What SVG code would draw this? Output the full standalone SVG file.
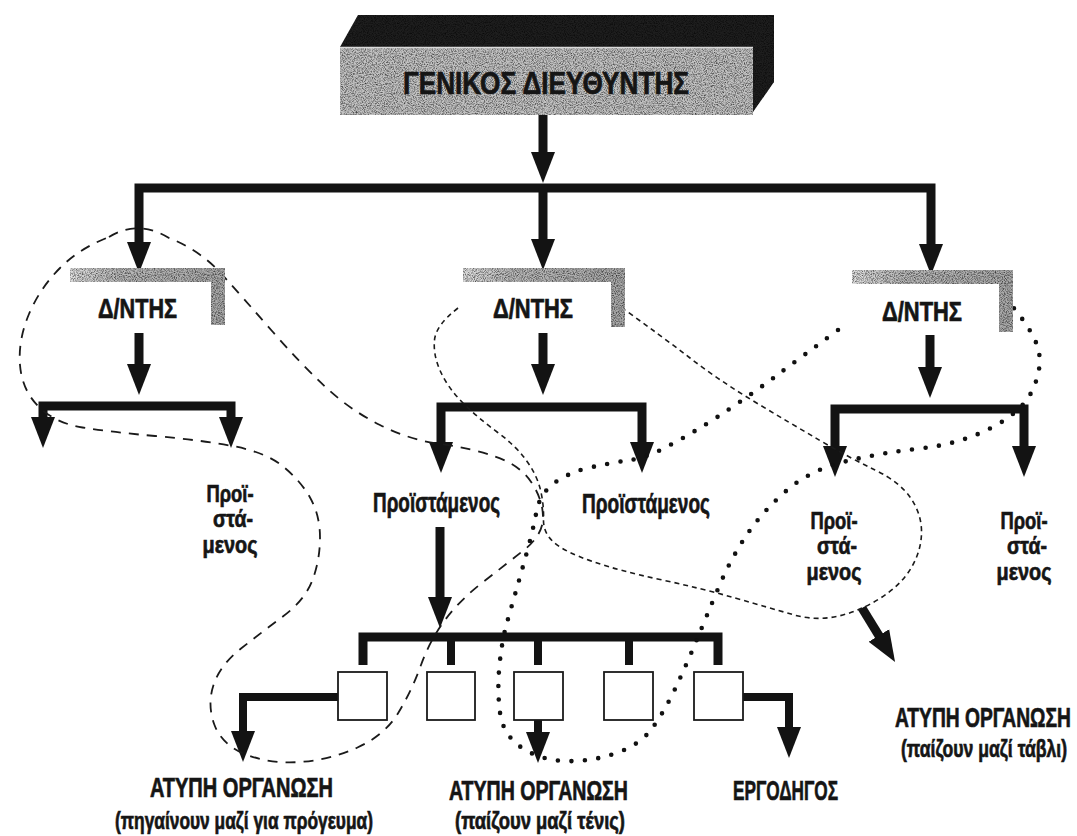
<svg xmlns="http://www.w3.org/2000/svg" width="1077" height="836" viewBox="0 0 1077 836">
  <style>
    .lbl { font-family: "Liberation Sans", Arial, sans-serif; font-weight: bold; fill: #151515; stroke: #151515; stroke-width: 0.7; }
    .bar { fill: none; stroke: #131313; stroke-width: 9; stroke-linejoin: miter; stroke-linecap: butt; }
    .thin { stroke-width: 8; }
    .arrow { marker-end: url(#head); }
    .both { marker-start: url(#head); marker-end: url(#head); }
    .coarse { fill: none; stroke: #1a1a1a; stroke-width: 1.8; stroke-dasharray: 10 8; }
    .fine { fill: none; stroke: #1a1a1a; stroke-width: 1.6; stroke-dasharray: 5 4; }
    .dots { fill: none; stroke: #111; stroke-width: 4.6; stroke-dasharray: 0 13.5; stroke-linecap: round; }
    .worker { fill: #fff; stroke: #1a1a1a; stroke-width: 1.8; }
    .tab { fill: url(#tabFade); filter: url(#grain); }
  </style>
  <defs>
    <marker id="head" markerUnits="userSpaceOnUse" viewBox="0 -13 31 26" markerWidth="31" markerHeight="26" refX="1" refY="0" orient="auto-start-reverse">
      <path d="M0,-12 L31,0 L0,12 Z" fill="#131313"/>
    </marker>
    <linearGradient id="tabFade" x1="0" y1="0" x2="1" y2="0">
      <stop offset="0" stop-color="#dedede"/>
      <stop offset="0.3" stop-color="#b8b8b8"/>
      <stop offset="1" stop-color="#a8a8a8"/>
    </linearGradient>
    <filter id="grain" x="0%" y="0%" width="100%" height="100%" color-interpolation-filters="sRGB">
      <feTurbulence type="fractalNoise" baseFrequency="0.9" numOctaves="2" seed="7" result="noise"/>
      <feColorMatrix in="noise" type="matrix" values="0 0 0 0 0  0 0 0 0 0  0 0 0 0 0  1.5 0 0 0 -0.6" result="specks"/>
      <feComposite in="specks" in2="SourceAlpha" operator="in" result="clipped"/>
      <feMerge><feMergeNode in="SourceGraphic"/><feMergeNode in="clipped"/></feMerge>
    </filter>
  </defs>

  <rect width="1077" height="836" fill="#ffffff"/>

  <!-- formal reporting lines -->
  <g id="connectors">
    <path class="bar arrow" d="M543,115 V153"/>
    <path class="bar both" d="M139,243 V188 H931 V245"/>
    <path class="bar arrow" d="M543,188 V240"/>

    <path class="bar arrow" d="M139,333 V365"/>
    <path class="bar both" d="M43,418 V406 H231 V418"/>

    <path class="bar arrow" d="M543,333 V365"/>
    <path class="bar both" d="M441,443 V407 H642 V443"/>

    <path class="bar arrow" d="M930,335 V368"/>
    <path class="bar both" d="M835,447 V409 H1024 V447"/>

    <path class="bar arrow" d="M440,527 V598"/>
    <path class="bar" d="M363,665 V637 H718 V665"/>
    <path class="bar thin" d="M451,637 V665 M538,637 V665 M629,637 V665"/>

    <path class="bar thin arrow" d="M338,697 H243 V732"/>
    <path class="bar thin arrow" d="M538,720 V733"/>
    <path class="bar thin arrow" d="M743,697 H789 V728"/>
    <path class="bar arrow" d="M862,608 L879.4,636.4"/>
  </g>

  <!-- informal groups -->
  <g id="informal-links">
    <path id="group-breakfast" class="coarse" d="M109,237 Q138,219 169,238 Q200,250 222.5,275 Q245,300 272.5,331.5 Q300,363 325,386.5 Q350,410 380,425 Q410,440 440,444 Q470,448 495,456.5 Q520,465 531.5,482.5 Q543,500 543,517.5 Q543,535 524,550 Q505,565 482.5,582.5 Q460,600 445,620 Q430,640 421,665 Q412,690 398.5,712.5 Q385,735 357.5,747.5 Q330,760 300,762 Q270,764 246,754.5 Q222,745 214.5,725 Q207,705 213.5,685 Q220,665 241,648.5 Q262,632 283.5,616 Q305,600 312.5,580 Q320,560 320,537.5 Q320,515 310,497.5 Q300,480 282.5,466 Q265,452 232.5,446 Q200,440 155,436 Q110,432 82.5,427.5 Q55,423 38.5,406.5 Q22,390 20,365 Q18,340 29,314 Q40,288 60,268 Q80,248 109,237 Z"/>
    <path id="group-tavli" class="fine" d="M458,308 Q436,325 434.5,340 Q433,355 440.5,371.5 Q448,388 463,403 Q478,418 496.5,431.5 Q515,445 526,460 Q537,475 540.5,490 Q544,505 543.5,519 Q543,533 554,542.5 Q565,552 592.5,561.5 Q620,571 660,579.5 Q700,588 735,598 Q770,608 792.5,614.5 Q815,621 836.5,616.5 Q858,612 879,599 Q900,586 910.5,569 Q921,552 921.5,533.5 Q922,515 911,498.5 Q900,482 875,470 Q850,458 820,440.5 Q790,423 755,402 Q720,381 690,358 Q660,335 625,310"/>
    <path id="group-tennis" class="dots" d="M838,330 Q800,358 780,373 Q760,388 739,402.5 Q718,417 699,428.5 Q680,440 662.5,449 Q645,458 627.5,460.5 Q610,463 590,467.5 Q570,472 555,482.5 Q540,493 536.5,511.5 Q533,530 527.5,550 Q522,570 517,587.5 Q512,605 507,622.5 Q502,640 499.5,665 Q497,690 500,712.5 Q503,735 521.5,747.5 Q540,760 565,761 Q590,762 615,753.5 Q640,745 652,728.5 Q664,712 674.5,690 Q685,668 695,644 Q705,620 717.5,590 Q730,560 746,536 Q762,512 786,491 Q810,470 845,461.5 Q880,453 920,448.5 Q960,444 991,428 Q1022,412 1032,391 Q1042,370 1039,352.5 Q1036,335 1013,307"/>
  </g>

  <!-- general manager -->
  <g id="node-general-manager">
    <polygon points="340,47 358,15 774,15 774,82 753,112 753,47" fill="#1e1e1e" filter="url(#grain)"/>
    <rect x="340" y="47" width="413" height="68" fill="#c2c2c2" filter="url(#grain)"/>
    <line x1="340" y1="47.5" x2="753" y2="47.5" stroke="#dadada" stroke-width="1.5"/>
    <text class="lbl" x="403" y="94" font-size="32" textLength="286" lengthAdjust="spacingAndGlyphs">ΓΕΝΙΚΟΣ ΔΙΕΥΘΥΝΤΗΣ</text>
  </g>

  <!-- directors -->
  <g id="node-director-left">
    <path class="tab" d="M70,268 H225 V325 H211 V282 H70 Z"/>
    <text class="lbl" x="98" y="318" font-size="27" textLength="79" lengthAdjust="spacingAndGlyphs">Δ/ΝΤΗΣ</text>
  </g>
  <g id="node-director-middle">
    <path class="tab" d="M463,268 H625 V327 H611 V282 H463 Z"/>
    <text class="lbl" x="493" y="318" font-size="27" textLength="80" lengthAdjust="spacingAndGlyphs">Δ/ΝΤΗΣ</text>
  </g>
  <g id="node-director-right">
    <path class="tab" d="M852,270 H1013 V332 H999 V284 H852 Z"/>
    <text class="lbl" x="882" y="321" font-size="27" textLength="80" lengthAdjust="spacingAndGlyphs">Δ/ΝΤΗΣ</text>
  </g>

  <!-- supervisors -->
  <g id="node-supervisor-1">
    <text class="lbl" font-size="24">
      <tspan x="206.5" y="502" textLength="47" lengthAdjust="spacingAndGlyphs">Προϊ-</tspan>
      <tspan x="213" y="527" textLength="40" lengthAdjust="spacingAndGlyphs">στά-</tspan>
      <tspan x="202.5" y="553" textLength="55" lengthAdjust="spacingAndGlyphs">μενος</tspan>
    </text>
  </g>
  <g id="node-supervisor-2">
    <text class="lbl" x="373" y="512" font-size="28" textLength="127" lengthAdjust="spacingAndGlyphs">Προϊστάμενος</text>
  </g>
  <g id="node-supervisor-3">
    <text class="lbl" x="582" y="513" font-size="28" textLength="128" lengthAdjust="spacingAndGlyphs">Προϊστάμενος</text>
  </g>
  <g id="node-supervisor-4">
    <text class="lbl" font-size="24">
      <tspan x="810.5" y="529" textLength="47" lengthAdjust="spacingAndGlyphs">Προϊ-</tspan>
      <tspan x="817" y="554" textLength="40" lengthAdjust="spacingAndGlyphs">στά-</tspan>
      <tspan x="806.5" y="580" textLength="55" lengthAdjust="spacingAndGlyphs">μενος</tspan>
    </text>
  </g>
  <g id="node-supervisor-5">
    <text class="lbl" font-size="24">
      <tspan x="1000.5" y="529" textLength="47" lengthAdjust="spacingAndGlyphs">Προϊ-</tspan>
      <tspan x="1007" y="554" textLength="40" lengthAdjust="spacingAndGlyphs">στά-</tspan>
      <tspan x="996.5" y="580" textLength="55" lengthAdjust="spacingAndGlyphs">μενος</tspan>
    </text>
  </g>

  <!-- workers -->
  <g id="node-worker-1"><rect class="worker" x="338" y="672" width="49" height="48"/></g>
  <g id="node-worker-2"><rect class="worker" x="427" y="672" width="48" height="48"/></g>
  <g id="node-worker-3"><rect class="worker" x="514" y="672" width="49" height="48"/></g>
  <g id="node-worker-4"><rect class="worker" x="604" y="672" width="49" height="48"/></g>
  <g id="node-worker-5"><rect class="worker" x="694" y="672" width="49" height="48"/></g>

  <!-- outcome labels -->
  <g id="node-informal-breakfast">
    <text class="lbl" x="150" y="797" font-size="28" textLength="183" lengthAdjust="spacingAndGlyphs">ΑΤΥΠΗ ΟΡΓΑΝΩΣΗ</text>
    <text class="lbl" x="115" y="829" font-size="24" textLength="258" lengthAdjust="spacingAndGlyphs">(πηγαίνουν μαζί για πρόγευμα)</text>
  </g>
  <g id="node-informal-tennis">
    <text class="lbl" x="449" y="800" font-size="28" textLength="179" lengthAdjust="spacingAndGlyphs">ΑΤΥΠΗ ΟΡΓΑΝΩΣΗ</text>
    <text class="lbl" x="455" y="829" font-size="24" textLength="170" lengthAdjust="spacingAndGlyphs">(παίζουν μαζί τένις)</text>
  </g>
  <g id="node-foreman">
    <text class="lbl" x="733" y="800" font-size="28" textLength="105" lengthAdjust="spacingAndGlyphs">ΕΡΓΟΔΗΓΟΣ</text>
  </g>
  <g id="node-informal-tavli">
    <text class="lbl" transform="translate(895,727) scale(0.68,1)" font-size="28" textLength="258.8" lengthAdjust="spacingAndGlyphs">ΑΤΥΠΗ ΟΡΓΑΝΩΣΗ</text>
    <text class="lbl" transform="translate(901,757) scale(0.6,1)" font-size="24" textLength="276.7" lengthAdjust="spacingAndGlyphs">(παίζουν μαζί τάβλι)</text>
  </g>
</svg>
